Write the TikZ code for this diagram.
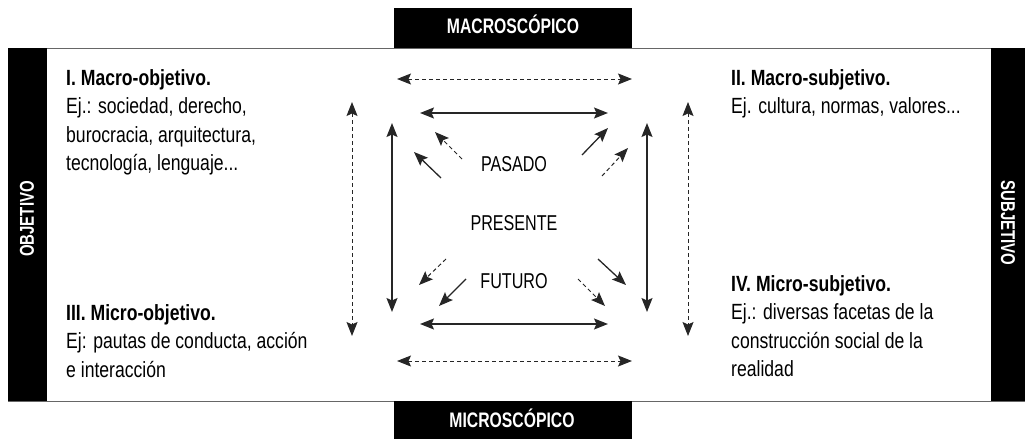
\documentclass[tikz,border=0pt]{standalone}
\usepackage{fontspec}
\setmainfont[FakeStretch=0.8]{Liberation Sans}
\newfontfamily\capsfont[FakeStretch=0.75]{Liberation Sans}
\usetikzlibrary{arrows.meta}

\tikzset{
  >={Stealth[length=14pt,width=11pt,inset=2.5pt]},
  flecha/.style={line width=1.3pt, draw=black!85},
  flechap/.style={line width=1pt, dash pattern=on 4pt off 3pt, draw=black!85},
  cuadro/.style={anchor=north west, inner sep=0pt, align=left, font=\fontsize{22}{28.5}\selectfont},
  tiempo/.style={inner sep=0pt, font=\capsfont\fontsize{21.5}{25}\selectfont},
  eje/.style={inner sep=0pt, text=white, font=\capsfont\bfseries\fontsize{21}{25}\selectfont},
}

\begin{document}
\begin{tikzpicture}[x=1pt,y=-1pt]
\useasboundingbox (0,0) rectangle (1025,439);
%frame
\draw[black!60, line width=1pt] (8,48) rectangle (1025,401);
%macro / micro boxes
\fill (394,8) rectangle (632,48);
\fill (394,401) rectangle (632,439);
\path (513,33) node[eje, anchor=base] (macro) {MACROSCÓPICO};
\path (512,427) node[eje, anchor=base] (micro) {MICROSCÓPICO};
%left and right bars
\fill (8,48) rectangle (47,401);
\fill (991,48) rectangle (1025,401);
\path (27,219) node[eje, rotate=90, font=\capsfont\bfseries\fontsize{20}{24}\selectfont] (objetivo) {OBJETIVO};
\path (1008,223) node[eje, rotate=-90, font=\capsfont\bfseries\fontsize{20}{24}\selectfont] (subjetivo) {SUBJETIVO};
%quadrants
\path (66,69) node[cuadro] (macroobj) {\textbf{I. Macro-objetivo.}\\Ej.: sociedad, derecho,\\burocracia, arquitectura,\\tecnología, lenguaje...};
\path (731,69) node[cuadro] (macrosubj) {\textbf{II. Macro-subjetivo.}\\Ej. cultura, normas, valores...};
\path (66,304) node[cuadro] (microobj) {\textbf{III. Micro-objetivo.}\\Ej: pautas de conducta, acción\\e interacción};
\path (731,275) node[cuadro] (microsubj) {\textbf{IV. Micro-subjetivo.}\\Ej.: diversas facetas de la\\construcción social de la\\realidad};
%time
\path (514,164) node[tiempo] (pasado) {PASADO};
\path (514,223) node[tiempo] (presente) {PRESENTE};
\path (514,281) node[tiempo] (futuro) {FUTURO};
%outer dashed arrows
\draw[flechap,<->] (397,79) -- (632,79);
\draw[flechap,<->] (397,361) -- (632,361);
\draw[flechap,<->] (352,102) -- (352,336);
\draw[flechap,<->] (688,102) -- (688,336);
%inner arrows
\draw[flecha,<->] (420,113) -- (608,113);
\draw[flecha,<->] (420,324) -- (608,324);
\draw[flecha,<->] (392,123) -- (392,312);
\draw[flecha,<->] (647,123) -- (647,312);
%diagonals
\draw[flecha,->] (441,178) -- (414,152);
\draw[flechap,->] (462,159) -- (435,132);
\draw[flecha,->] (582,155) -- (608,128);
\draw[flechap,->] (602,176) -- (628,148);
\draw[flechap,->] (446,259) -- (419,285);
\draw[flecha,->] (466,279) -- (439,306);
\draw[flecha,->] (598,259) -- (626,285);
\draw[flechap,->] (578,279) -- (605,306);
\end{tikzpicture}
\end{document}
